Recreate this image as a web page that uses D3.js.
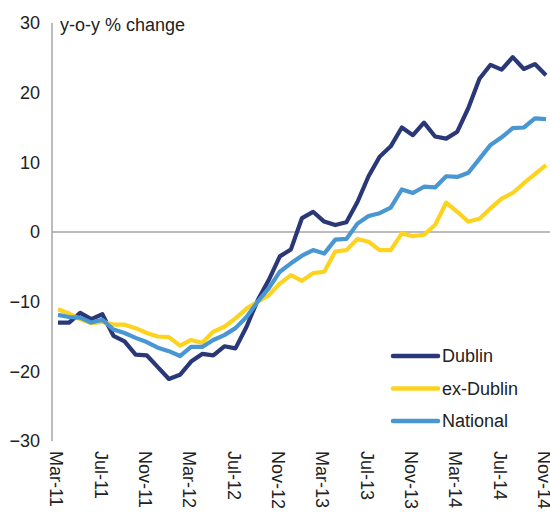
<!DOCTYPE html>
<html>
<head>
<meta charset="utf-8">
<script src="https://cdn.jsdelivr.net/npm/d3@7"></script>
<style>
  body { margin: 0; background: #fff; }
  text { font-family: "Liberation Sans", Arial, sans-serif; fill: #222; }
</style>
</head>
<body>
<svg id="chart" width="550" height="512"></svg>
<script>
// monthly, Mar-11 .. Nov-14
var months = ["Mar-11","Apr-11","May-11","Jun-11","Jul-11","Aug-11","Sep-11","Oct-11","Nov-11","Dec-11",
  "Jan-12","Feb-12","Mar-12","Apr-12","May-12","Jun-12","Jul-12","Aug-12","Sep-12","Oct-12","Nov-12","Dec-12",
  "Jan-13","Feb-13","Mar-13","Apr-13","May-13","Jun-13","Jul-13","Aug-13","Sep-13","Oct-13","Nov-13","Dec-13",
  "Jan-14","Feb-14","Mar-14","Apr-14","May-14","Jun-14","Jul-14","Aug-14","Sep-14","Oct-14","Nov-14"];
var tickLabels = ["Mar-11","Jul-11","Nov-11","Mar-12","Jul-12","Nov-12","Mar-13","Jul-13","Nov-13","Mar-14","Jul-14","Nov-14"];
var yTicks = [-30, -20, -10, 0, 10, 20, 30];

var dublin = [-13.0,-13.0,-11.6,-12.5,-11.8,-14.9,-15.7,-17.6,-17.7,-19.4,
  -21.1,-20.5,-18.6,-17.5,-17.7,-16.4,-16.7,-13.6,-9.8,-6.9,-3.5,-2.5,
  2.0,2.9,1.5,1.0,1.4,4.3,8.0,10.8,12.3,15.0,13.9,15.7,
  13.7,13.4,14.4,17.8,22.0,24.0,23.3,25.1,23.4,24.1,22.5];
var exDublin = [-11.1,-11.7,-12.5,-13.1,-12.9,-13.3,-13.3,-13.8,-14.5,-15.0,
  -15.1,-16.3,-15.5,-15.9,-14.3,-13.6,-12.4,-11.0,-10.0,-9.1,-7.4,-6.2,
  -7.0,-5.9,-5.7,-2.8,-2.6,-1.0,-1.4,-2.6,-2.6,-0.2,-0.6,-0.4,
  1.0,4.2,2.9,1.5,1.9,3.4,4.8,5.6,7.0,8.3,9.6];
var national = [-11.9,-12.2,-12.3,-13.0,-12.6,-14.0,-14.5,-15.2,-15.8,-16.6,
  -17.1,-17.8,-16.5,-16.5,-15.5,-14.8,-13.8,-12.2,-10.0,-8.1,-5.7,-4.5,
  -3.4,-2.6,-3.1,-1.1,-1.0,1.2,2.3,2.7,3.5,6.1,5.6,6.5,
  6.4,8.0,7.9,8.5,10.5,12.5,13.6,14.9,15.0,16.3,16.2];

var series = [
  { name: "Dublin", values: dublin, color: "#2a3878" },
  { name: "ex-Dublin", values: exDublin, color: "#fdd31f" },
  { name: "National", values: national, color: "#4896d2" }
];

var svg = d3.select("#chart");
var axisX = 52, right = 550;
var fontSize = "18px";

var x = d3.scalePoint().domain(months).range([58, 546]);
var y = d3.scaleLinear().domain([-30, 30]).range([441, 23]);

// y axis line
svg.append("line")
  .attr("x1", axisX).attr("x2", axisX)
  .attr("y1", y(30)).attr("y2", y(-30))
  .attr("stroke", "#a6a6a6").attr("stroke-width", 1.5);

// zero line
svg.append("line")
  .attr("x1", axisX).attr("x2", right)
  .attr("y1", y(0)).attr("y2", y(0))
  .attr("stroke", "#a6a6a6").attr("stroke-width", 1.5);

// y tick labels
var yAxis = d3.axisLeft(y).tickValues(yTicks).tickSize(0).tickPadding(12);
var gy = svg.append("g").attr("transform", "translate(" + axisX + ",0)").call(yAxis);
gy.select(".domain").remove();
gy.selectAll("text").style("font-size", fontSize).attr("fill", "#222")
  .style("font-family", "'Liberation Sans', Arial, sans-serif");

// x tick labels, rotated
var xAxis = d3.axisBottom(x).tickValues(tickLabels).tickSize(0).tickPadding(0);
var gx = svg.append("g").attr("transform", "translate(-2,451)").call(xAxis);
gx.select(".domain").remove();
gx.selectAll("text")
  .style("font-size", fontSize).attr("fill", "#222")
  .style("font-family", "'Liberation Sans', Arial, sans-serif")
  .attr("text-anchor", "start")
  .attr("transform", "rotate(90)")
  .attr("x", 0).attr("y", 0).attr("dx", 0).attr("dy", "0.35em");

// axis title
svg.append("text")
  .attr("x", 60).attr("y", 31)
  .style("font-size", fontSize)
  .text("y-o-y % change");

// lines
var line = d3.line()
  .x(function (d, i) { return x(months[i]); })
  .y(function (d) { return y(d); });

series.forEach(function (s) {
  svg.append("path")
    .datum(s.values)
    .attr("d", line)
    .attr("fill", "none")
    .attr("stroke", s.color)
    .attr("stroke-width", 4.2)
    .attr("stroke-linejoin", "round");
});

// legend
var legend = svg.append("g").attr("transform", "translate(393,356)");
series.forEach(function (s, i) {
  var g = legend.append("g").attr("transform", "translate(0," + (i * 32.5) + ")");
  g.append("line")
    .attr("x1", 0).attr("x2", 45)
    .attr("stroke", s.color).attr("stroke-width", 4.5)
    .attr("stroke-linecap", "round");
  g.append("text")
    .attr("x", 49).attr("y", 6)
    .style("font-size", fontSize)
    .text(s.name);
});
</script>
</body>
</html>
